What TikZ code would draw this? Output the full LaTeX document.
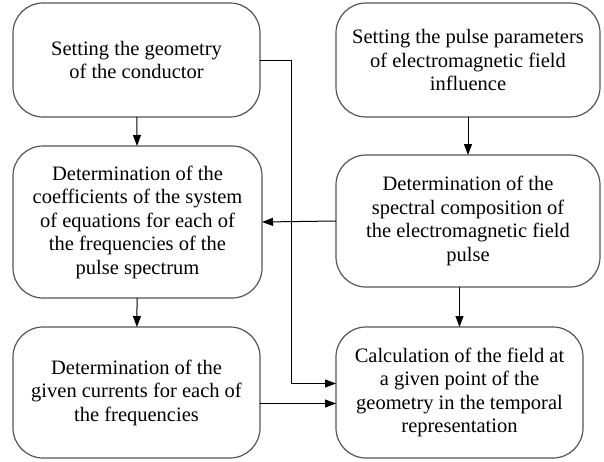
\documentclass[tikz,border=0pt]{standalone}
\usepackage{fontspec}
\setmainfont{Liberation Serif}
\usetikzlibrary{arrows.meta, positioning, calc}
\definecolor{mygray}{RGB}{85,85,85}
\tikzset{
  stepblock/.style={rectangle, draw=mygray, fill=white,
    align=center, rounded corners=30pt, line width=1.2pt,
    inner sep=0pt, outer sep=0pt,
    font=\fontsize{20.5}{23.5}\selectfont},
  arrow/.style={-{Triangle[length=11pt,width=8pt]}, line width=1pt, color=black}
}

\begin{document}
\begin{tikzpicture}[x=1pt,y=-1pt]
  \useasboundingbox (0,0) rectangle (604,461);

  % Left column
  \node[stepblock, minimum width=247pt, minimum height=114pt] (geom) at (136.5,60)
    {Setting the geometry\\of the conductor};
  \node[stepblock, minimum width=249pt, minimum height=152pt] (coef) at (137.5,222)
    {Determination of the\\coefficients of the system\\of equations for each of\\the frequencies of the\\pulse spectrum};
  \node[stepblock, minimum width=247pt, minimum height=131pt] (curr) at (136.5,392.5)
    {Determination of the\\given currents for each of\\the frequencies};

  % Right column
  \node[stepblock, minimum width=264pt, minimum height=114pt] (pulse) at (468,60)
    {Setting the pulse parameters\\of electromagnetic field\\influence};
  \node[stepblock, minimum width=264pt, minimum height=132pt] (spec) at (468,221)
    {Determination of the\\spectral composition of\\the electromagnetic field\\pulse};
  \node[stepblock, minimum width=247pt, minimum height=131pt] (calc) at (459.5,392.5)
    {Calculation of the field at\\a given point of the\\geometry in the temporal\\representation};

  % Connectors
  \draw[arrow] (geom) -- (coef);
  \draw[arrow] (coef) -- (curr);
  \draw[arrow] (pulse) -- (spec);
  \draw[arrow] (spec.south -| calc.north) -- (calc.north);
  \draw[arrow] (spec.west) -- (coef.east);
  \draw[arrow] (geom.east) -- ++(31,0) |- ([yshift=9pt]calc.west);
  \draw[arrow] ([yshift=-11pt]curr.east) -- ([yshift=-11pt]calc.west);
\end{tikzpicture}
\end{document}
